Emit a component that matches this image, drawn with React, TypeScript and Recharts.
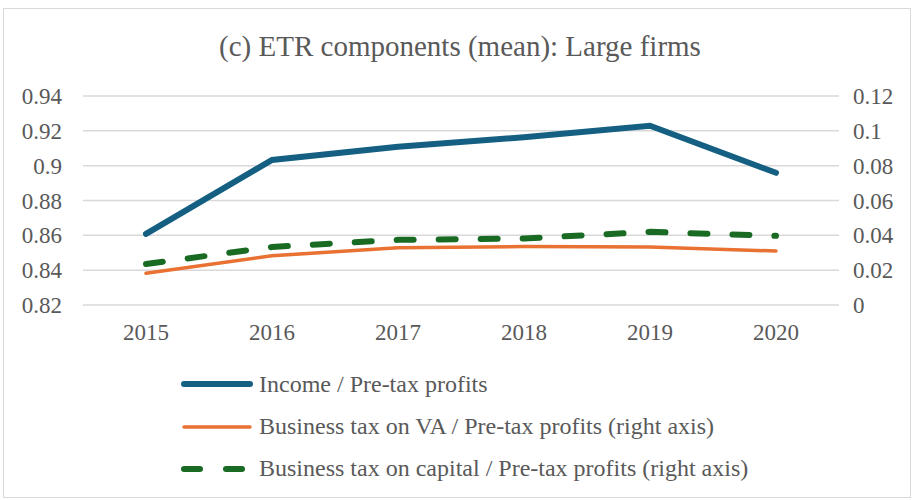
import React from 'react';
import { LineChart, Line, XAxis, YAxis, CartesianGrid } from 'recharts';

const years = ['2015', '2016', '2017', '2018', '2019', '2020'];
const incomeShare = [0.8608, 0.9033, 0.9108, 0.9163, 0.9229, 0.8959];
const businessTaxVA = [0.0182, 0.0283, 0.0328, 0.0336, 0.0333, 0.031];
const businessTaxCapital = [0.0235, 0.0333, 0.0374, 0.0382, 0.042, 0.0397];

const leftTicks = [0.82, 0.84, 0.86, 0.88, 0.9, 0.92, 0.94];
const rightTicks = [0, 0.02, 0.04, 0.06, 0.08, 0.1, 0.12];

const seriesInfo = [
  { key: 'income', label: 'Income / Pre-tax profits', color: '#156082', width: 6, dash: undefined },
  { key: 'va', label: 'Business tax on VA / Pre-tax profits (right axis)', color: '#E97132', width: 3.5, dash: undefined },
  { key: 'capital', label: 'Business tax on capital / Pre-tax profits (right axis)', color: '#196B24', width: 6, dash: '16 26' },
];

const data = years.map((year, i) => ({
  year,
  income: incomeShare[i],
  va: businessTaxVA[i],
  capital: businessTaxCapital[i],
}));

const FONT = 'Liberation Serif';
const TEXT = '#595959';

const fmt = (v: number) => String(+v.toFixed(2));

// legend drawn by hand, Excel-style, below the plot
const LegendBox = () => (
  <div style={{ position: 'absolute', left: 178, top: 363, fontFamily: FONT, color: TEXT, fontSize: 24 }}>
    {seriesInfo.map((s) => (
      <div key={s.key} style={{ display: 'flex', alignItems: 'center', height: 42.4, whiteSpace: 'nowrap' }}>
        <svg width={81} height={10} style={{ display: 'block' }}>
          <line
            x1={6}
            x2={s.dash ? 72 : 72}
            y1={5}
            y2={5}
            stroke={s.color}
            strokeWidth={s.width}
            strokeLinecap="round"
            strokeDasharray={s.dash}
          />
        </svg>
        <span>{s.label}</span>
      </div>
    ))}
  </div>
);

export default function App() {
  return (
    <div style={{ position: 'fixed', left: 0, top: 0, width: 913, height: 500, background: '#fff' }}>
      <div
        style={{
          position: 'absolute',
          left: 3,
          top: 8,
          width: 908,
          height: 490,
          border: '1px solid #d9d9d9',
          boxSizing: 'border-box',
        }}
      />
      <div
        style={{
          position: 'absolute',
          top: 30,
          left: 0,
          width: 920,
          textAlign: 'center',
          fontFamily: FONT,
          fontSize: 29,
          color: TEXT,
          whiteSpace: 'nowrap',
        }}
      >
        (c) ETR components (mean): Large firms
      </div>
      <LineChart
        width={913}
        height={500}
        data={data}
        margin={{ top: 96, right: 0, bottom: 155, left: 0 }}
        style={{ position: 'absolute', left: 0, top: 0 }}
      >
        <CartesianGrid vertical={false} stroke="#d9d9d9" strokeWidth={1.5} yAxisId="left" />
        <XAxis
          dataKey="year"
          height={40}
          padding={{ left: 63, right: 63 }}
          axisLine={false}
          tickLine={false}
          tickMargin={13}
          tick={{ fontFamily: FONT, fontSize: 23, fill: TEXT }}
        />
        <YAxis
          yAxisId="left"
          width={83}
          domain={[0.82, 0.94]}
          ticks={leftTicks}
          tickFormatter={fmt}
          axisLine={false}
          tickLine={false}
          tickMargin={15}
          tick={{ fontFamily: FONT, fontSize: 23, fill: TEXT }}
        />
        <YAxis
          yAxisId="right"
          orientation="right"
          width={74}
          domain={[0, 0.12]}
          ticks={rightTicks}
          tickFormatter={fmt}
          axisLine={false}
          tickLine={false}
          tickMargin={8}
          tick={{ fontFamily: FONT, fontSize: 23, fill: TEXT }}
        />
        <Line
          yAxisId="left"
          dataKey="income"
          stroke="#156082"
          strokeWidth={6}
          strokeLinecap="round"
          dot={false}
          isAnimationActive={false}
        />
        <Line
          yAxisId="right"
          dataKey="va"
          stroke="#E97132"
          strokeWidth={3.5}
          strokeLinecap="round"
          dot={false}
          isAnimationActive={false}
        />
        <Line
          yAxisId="right"
          dataKey="capital"
          stroke="#196B24"
          strokeWidth={6}
          strokeLinecap="round"
          strokeDasharray="17 25"
          dot={false}
          isAnimationActive={false}
        />
      </LineChart>
      <LegendBox />
    </div>
  );
}
